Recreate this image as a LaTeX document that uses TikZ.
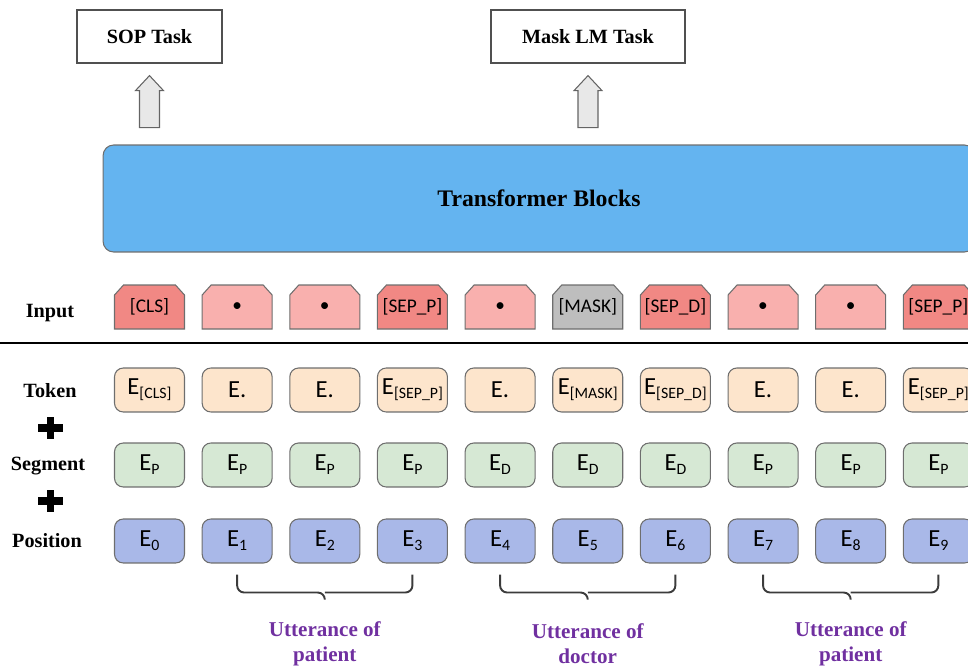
\documentclass[tikz,border=0pt]{standalone}
\usepackage{fontspec}
\setmainfont{Liberation Serif}
\newfontfamily\boxfont{Carlito}
\usetikzlibrary{calc}

\definecolor{sepred}{RGB}{241,136,132}
\definecolor{dotpink}{RGB}{249,176,174}
\definecolor{maskgray}{RGB}{190,190,190}
\definecolor{tokpeach}{RGB}{253,229,204}
\definecolor{seggreen}{RGB}{214,232,212}
\definecolor{posblue}{RGB}{169,184,232}
\definecolor{blockblue}{RGB}{100,180,240}
\definecolor{edgegray}{RGB}{110,110,110}
\definecolor{taskgray}{RGB}{80,80,80}
\definecolor{arrowfill}{RGB}{232,232,232}
\definecolor{arrowgray}{RGB}{100,100,100}
\definecolor{bracegray}{RGB}{60,60,60}
\definecolor{uttpurple}{RGB}{112,48,160}

\newcommand{\emb}[1]{E\raisebox{-2.2pt}{\fontsize{9}{10}\selectfont #1}}

\begin{document}
\begin{tikzpicture}[x=0.02cm, y=-0.02cm,
    inbox/.style={minimum width=1.4cm, minimum height=.88cm, inner sep=0pt,
      font=\boxfont\fontsize{11}{13}\selectfont},
    inshape/.style={draw=edgegray, line width=.6pt},
    embbox/.style={draw=edgegray, line width=.6pt, rounded corners=5pt, minimum width=1.4cm,
      minimum height=.88cm, inner sep=0pt, font=\boxfont\fontsize{14}{16}\selectfont},
    rowlabel/.style={font=\bfseries\fontsize{11.5}{13}\selectfont},
    taskbox/.style={draw=taskgray, line width=.7pt, minimum height=1.06cm,
      font=\bfseries\fontsize{11.5}{13}\selectfont},
    taskarrow/.style={draw=arrowgray, fill=arrowfill, line width=.6pt},
    uttbrace/.style={draw=bracegray, line width=1.1pt, rounded corners=4pt},
    uttlabel/.style={text=uttpurple, align=center, font=\bfseries\fontsize{12}{14.2}\selectfont},
    plussign/.style={line width=4pt}]
  \useasboundingbox (0,0) rectangle (968,669);
  \clip (0,0) rectangle (968,669);

  \node[taskbox, minimum width=2.9cm] (sop) at (149.5,36.5) {SOP Task};
  \node[taskbox, minimum width=3.88cm] (mlm) at (588,36.5) {Mask LM Task};
  \foreach \task in {sop,mlm}
    \draw[taskarrow] ($(\task.south)+(0,12)$) -- ++(14,15) -- ++(-4,0) -- ++(0,37)
      -- ++(-20,0) -- ++(0,-37) -- ++(-4,0) -- cycle;

  \node[draw=edgegray, fill=blockblue, line width=.6pt, rounded corners=6pt,
    minimum width=17.44cm, minimum height=2.14cm,
    font=\bfseries\fontsize{13.5}{16}\selectfont] (blocks) at (539,198.5) {Transformer Blocks};

  \node[rowlabel] (lblinput) at (50,313) {Input};
  \node[rowlabel] (lbltoken) at (50,391) {Token};
  \node[rowlabel] (lblsegment) at (48,466) {Segment};
  \node[rowlabel] (lblposition) at (47,541) {Position};
  \draw[plussign] (38,428) -- (63,428) (50.5,417) -- (50.5,439);
  \draw[plussign] (38,501) -- (63,501) (50.5,490) -- (50.5,512);

  \draw[line width=1.7pt] (0,343) -- (968,343);

  \foreach \lab/\col [count=\i from 0] in {{[CLS]}/sepred, \textbullet/dotpink, \textbullet/dotpink,
      {[SEP\_P]}/sepred, \textbullet/dotpink, {[MASK]}/maskgray, {[SEP\_D]}/sepred,
      \textbullet/dotpink, \textbullet/dotpink, {[SEP\_P]}/sepred} {
    \coordinate (c\i) at (149.5+87.65*\i,307);
    \draw[inshape, fill=\col] ($(c\i)+(-35,22)$) -- ($(c\i)+(-35,-12)$) -- ($(c\i)+(-26,-22)$)
      -- ($(c\i)+(26,-22)$) -- ($(c\i)+(35,-12)$) -- ($(c\i)+(35,22)$) -- cycle;
    \node[inbox] (in\i) at (c\i) {\lab};
  }

  \foreach \sub [count=\i from 0] in {{[CLS]}, {}, {}, {[SEP\_P]}, {}, {[MASK]}, {[SEP\_D]}, {}, {}, {[SEP\_P]}}
    \node[embbox, fill=tokpeach] (t\i) at (149.5+87.65*\i,390) {\ifx\sub\empty E.\else\emb{\sub}\fi};

  \foreach \sub [count=\i from 0] in {P,P,P,P,D,D,D,P,P,P}
    \node[embbox, fill=seggreen] (s\i) at (149.5+87.65*\i,465) {\emb{\sub}};

  \foreach \i in {0,...,9}
    \node[embbox, fill=posblue] (p\i) at (149.5+87.65*\i,541) {\emb{\i}};

  \foreach \a/\b/\who [count=\k] in {1/3/patient, 4/6/doctor, 7/9/patient} {
    \coordinate (mid\k) at ($(p\a.south)!.5!(p\b.south)$);
    \draw[uttbrace] ($(p\a.south)+(0,11)$) |- ($(mid\k)+(0,29)$) -- ++(0,7);
    \draw[uttbrace] ($(p\b.south)+(0,11)$) |- ($(mid\k)+(0,29)$);
    \node[uttlabel] (utt\k) at ($(mid\k)+(0,80)$) {Utterance of\\\who};
  }
\end{tikzpicture}
\end{document}
